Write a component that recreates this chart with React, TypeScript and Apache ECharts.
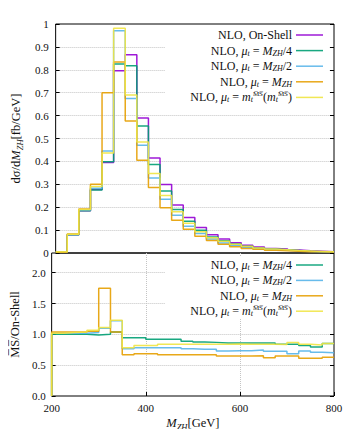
import React, { useEffect, useRef } from "react";
import * as echarts from "echarts";

// Bin lower edges (GeV), 25 GeV wide, last bin ends at 800
const binStarts = [200, 225, 250, 275, 300, 325, 350, 375, 400, 425, 450, 475, 500, 525, 550, 575, 600, 625, 650, 675, 700, 725, 750, 775];
const xEnd = 800;

// Top panel: dσ/dM_ZH [fb/GeV]
const onShell = [0.003, 0.08, 0.185, 0.277, 0.395, 0.796, 0.866, 0.59, 0.415, 0.299, 0.21, 0.155, 0.111, 0.08, 0.061, 0.045, 0.034, 0.026, 0.02, 0.017, 0.013, 0.01, 0.008, 0.006];
const muQuarter = [0.003, 0.08, 0.184, 0.275, 0.398, 0.825, 0.818, 0.555, 0.386, 0.271, 0.19, 0.139, 0.099, 0.07, 0.053, 0.039, 0.029, 0.022, 0.017, 0.014, 0.011, 0.008, 0.006, 0.005];
const muHalf = [0.003, 0.081, 0.188, 0.283, 0.445, 0.971, 0.675, 0.471, 0.328, 0.235, 0.165, 0.117, 0.085, 0.061, 0.044, 0.033, 0.025, 0.019, 0.015, 0.012, 0.009, 0.007, 0.006, 0.004];
const muFull = [0.003, 0.083, 0.192, 0.3, 0.7, 0.834, 0.576, 0.405, 0.286, 0.198, 0.143, 0.104, 0.073, 0.055, 0.038, 0.027, 0.02, 0.016, 0.012, 0.01, 0.008, 0.006, 0.005, 0.004];
const msBar = [0.005, 0.082, 0.19, 0.29, 0.437, 0.981, 0.69, 0.485, 0.347, 0.251, 0.18, 0.13, 0.093, 0.067, 0.051, 0.038, 0.029, 0.022, 0.017, 0.014, 0.011, 0.009, 0.007, 0.005];

// Bottom panel: ratio to On-Shell
const ratioQuarter = [1.0, 1.0, 1.0, 0.99, 1.0, 1.037, 0.946, 0.946, 0.92, 0.92, 0.92, 0.89, 0.876, 0.87, 0.86, 0.86, 0.86, 0.86, 0.86, 0.838, 0.838, 0.82, 0.795, 0.85];
const ratioHalf = [1.02, 1.02, 1.02, 1.03, 1.1, 1.22, 0.768, 0.784, 0.784, 0.784, 0.784, 0.768, 0.757, 0.757, 0.73, 0.735, 0.735, 0.745, 0.725, 0.725, 0.687, 0.73, 0.71, 0.703];
const ratioFull = [1.037, 1.037, 1.037, 1.05, 1.75, 1.037, 0.67, 0.687, 0.687, 0.67, 0.67, 0.67, 0.67, 0.67, 0.648, 0.648, 0.648, 0.655, 0.622, 0.648, 0.648, 0.611, 0.611, 0.63];
const ratioMsBar = [1.02, 1.03, 1.04, 1.065, 1.11, 1.227, 0.784, 0.82, 0.82, 0.838, 0.838, 0.838, 0.838, 0.838, 0.838, 0.845, 0.838, 0.838, 0.838, 0.835, 0.866, 0.838, 0.828, 0.85];

const yTopTicks = ["0", "0.1", "0.2", "0.3", "0.4", "0.5", "0.6", "0.7", "0.8", "0.9", "1"];
const yBottomTicks = ["0.0", "0.5", "1.0", "1.5", "2.0"];

const COLORS = {
  onShell: "#9400d3",
  quarter: "#009e73",
  half: "#56b4e9",
  full: "#e69f00",
  msbar: "#f0e442",
};

const FONT = "Liberation Serif";

const rich = {
  i: { fontStyle: "italic", fontFamily: FONT, fontSize: 12, lineHeight: 13, fill: "#111" },
  s: { fontStyle: "italic", fontFamily: FONT, fontSize: 8, lineHeight: 7, verticalAlign: "bottom", fill: "#111" },
  p: { fontFamily: FONT, fontSize: 7, lineHeight: 7, verticalAlign: "top", fill: "#111" },
} as any;

const richAxis = {
  i: { fontStyle: "italic", fontFamily: FONT, fontSize: 12.5, lineHeight: 16, color: "#111" },
  n: { fontFamily: FONT, fontSize: 12.5, lineHeight: 16, color: "#111" },
  s: { fontStyle: "italic", fontFamily: FONT, fontSize: 8.5, lineHeight: 8, verticalAlign: "bottom", color: "#111" },
} as any;

const toSteps = (vals: number[], startAtZero: boolean) => {
  const pts: number[][] = [];
  if (startAtZero) pts.push([binStarts[0], 0]);
  vals.forEach((v, k) => pts.push([binStarts[k], v]));
  pts.push([xEnd, vals[vals.length - 1]]);
  return pts;
};

const OV = "M\u0305S\u0305";

const topLegend = [
  { text: "NLO, On-Shell", color: COLORS.onShell },
  { text: "NLO, {i|μ}{s|t} = {i|M}{s|ZH}/4", color: COLORS.quarter },
  { text: "NLO, {i|μ}{s|t} = {i|M}{s|ZH}/2", color: COLORS.half },
  { text: "NLO, {i|μ}{s|t} = {i|M}{s|ZH}", color: COLORS.full },
  { text: `NLO, {i|μ}{s|t} = {i|m}{s|t}{p|${OV}}({i|m}{s|t}{p|${OV}})`, color: COLORS.msbar },
];
const bottomLegend = topLegend.slice(1);

export default function App() {
  const ref = useRef<HTMLDivElement>(null);
  useEffect(() => {
    if (!ref.current) return;
    const chart = echarts.init(ref.current, undefined, { renderer: "svg" });

    const lineSeries = (name: string, vals: number[], color: string, axis: number) => ({
      name,
      type: "line",
      step: "end",
      showSymbol: false,
      symbol: "none",
      xAxisIndex: axis,
      yAxisIndex: axis,
      data: toSteps(vals, axis === 1),
      lineStyle: { color, width: 1.5, opacity: 0.9 },
      itemStyle: { color },
      z: 3,
    });

    const legendEls = (items: { text: string; color: string }[], y0: number, dy: number) => {
      const els: any[] = [];
      items.forEach((it, k) => {
        const y = y0 + dy * k;
        els.push({
          type: "text",
          z: 10,
          x: 292,
          y,
          style: {
            text: it.text,
            fontFamily: FONT,
            fontSize: 12,
            lineHeight: 13,
            fill: "#111",
            align: "right",
            verticalAlign: "middle",
            rich,
          },
        });
        els.push({
          type: "line",
          z: 10,
          shape: { x1: 296, y1: y, x2: 323, y2: y },
          style: { stroke: it.color, lineWidth: 1.5, opacity: 0.9 },
        });
      });
      return els;
    };

    const tickStyle = { inside: true, length: 4, lineStyle: { color: "#000", width: 1 } };
    const splitStyle = { show: true, showMinLine: false, showMaxLine: false, lineStyle: { color: "#c4c4c4", type: "dotted", width: 1 } };

    const option: any = {
      animation: false,
      grid: [
        { left: 44, right: 30, top: 24, height: 229, show: true, borderColor: "#000", borderWidth: 1, backgroundColor: "transparent" },
        { left: 44, right: 30, top: 253, height: 143, show: true, borderColor: "#000", borderWidth: 1, backgroundColor: "transparent" },
      ],
      xAxis: [
        {
          gridIndex: 0, type: "value", min: 200, max: 800, interval: 200,
          axisLine: { show: false }, axisTick: { show: false }, axisLabel: { show: false }, splitLine: { show: false },
        },
        {
          gridIndex: 1, type: "value", min: 200, max: 800, interval: 200,
          axisLine: { show: false },
          axisTick: tickStyle,
          axisLabel: { fontFamily: FONT, fontSize: 11, color: "#111", margin: 6 },
          splitLine: splitStyle,
          name: "{i|M}{s|ZH}{n|[GeV]}",
          nameLocation: "middle",
          nameGap: 19,
          nameTextStyle: { fontFamily: FONT, fontSize: 12.5, lineHeight: 16, color: "#111", rich: richAxis },
        },
      ],
      yAxis: [
        {
          gridIndex: 0, type: "value", min: 0, max: 1, interval: 0.1,
          axisLine: { show: false },
          axisTick: tickStyle,
          axisLabel: {
            fontFamily: FONT, fontSize: 11, color: "#111", margin: 7,
            formatter: (v: number) => yTopTicks[Math.round(v * 10)] ?? "",
          },
          splitLine: splitStyle,
          name: "{n|dσ/d}{i|M}{s|ZH}{n|[fb/GeV]}",
          nameLocation: "middle",
          nameRotate: 90,
          nameGap: 25,
          nameTextStyle: { fontFamily: FONT, fontSize: 12.5, lineHeight: 16, color: "#111", rich: richAxis },
        },
        {
          gridIndex: 1, type: "value", min: 0, max: 2.32, interval: 0.5,
          axisLine: { show: false },
          axisTick: tickStyle,
          axisLabel: {
            fontFamily: FONT, fontSize: 11, color: "#111", margin: 6,
            showMaxLabel: false,
            formatter: (v: number) => {
              const k = Math.round(v * 2);
              return Math.abs(v * 2 - k) < 1e-6 ? yBottomTicks[k] ?? "" : "";
            },
          },
          splitLine: splitStyle,
          name: "M\u0305S\u0305/On-Shell",
          nameLocation: "middle",
          nameRotate: 90,
          nameGap: 26,
          nameTextStyle: { fontFamily: FONT, fontSize: 12.5, color: "#111" },
        },
        {
          gridIndex: 0, type: "value", min: 0, max: 1, interval: 0.1, position: "right",
          axisLine: { show: false }, axisTick: tickStyle, axisLabel: { show: false }, splitLine: { show: false },
        },
        {
          gridIndex: 1, type: "value", min: 0, max: 2.32, interval: 0.5, position: "right",
          axisLine: { show: false }, axisTick: tickStyle, axisLabel: { show: false }, splitLine: { show: false },
        },
      ],
      series: [
        lineSeries("NLO, On-Shell", onShell, COLORS.onShell, 0),
        lineSeries("NLO, μt = MZH/4", muQuarter, COLORS.quarter, 0),
        lineSeries("NLO, μt = MZH/2", muHalf, COLORS.half, 0),
        lineSeries("NLO, μt = MZH", muFull, COLORS.full, 0),
        lineSeries("NLO, μt = mt(mt)", msBar, COLORS.msbar, 0),
        lineSeries("ratio MZH/4", ratioQuarter, COLORS.quarter, 1),
        lineSeries("ratio MZH/2", ratioHalf, COLORS.half, 1),
        lineSeries("ratio MZH", ratioFull, COLORS.full, 1),
        lineSeries("ratio MSbar", ratioMsBar, COLORS.msbar, 1),
      ],
      graphic: {
        elements: [
          { type: "rect", z: 1, shape: { x: 165, y: 26, width: 164, height: 80 }, style: { fill: "#fff" } },
          { type: "rect", z: 1, shape: { x: 165, y: 256, width: 164, height: 62 }, style: { fill: "#fff" } },
          ...legendEls(topLegend, 35, 15.6),
          ...legendEls(bottomLegend, 265, 15.4),
        ],
      },
    };
    chart.setOption(option);
    return () => chart.dispose();
  }, []);
  return <div ref={ref} style={{ width: 364, height: 437, margin: -8 }} />;
}
